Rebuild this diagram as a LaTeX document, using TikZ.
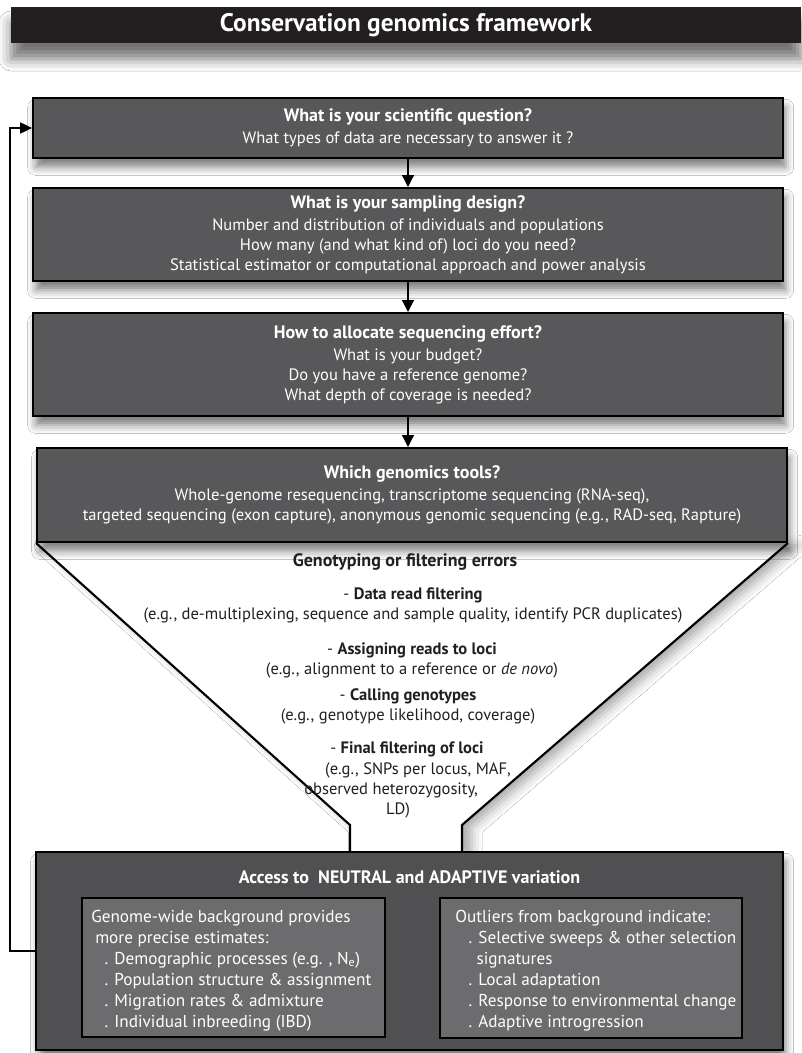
\documentclass[tikz,border=0pt]{standalone}
\usepackage{fontspec}
\setmainfont{PT Sans}
\usepackage{tikz}
\usetikzlibrary{arrows.meta, shadows.blur, backgrounds}

\definecolor{titleblack}{RGB}{35,31,32}
\definecolor{boxgrey}{RGB}{88,88,90}
\definecolor{accessgrey}{RGB}{80,80,82}
\definecolor{innergrey}{RGB}{108,108,110}
\definecolor{inkblack}{RGB}{35,31,32}

\newcommand{\boxbody}{\fontsize{12.4}{15}\selectfont}
\newcommand{\boxhead}{\fontsize{13.5}{15}\selectfont\bfseries}

\tikzset{
	titlebar/.style={fill=titleblack, text=white, inner sep=0pt, minimum width=592.5pt, minimum height=27pt, font=\fontsize{19}{20}\selectfont\bfseries, blur shadow={shadow xshift=0pt, shadow yshift=-12pt, shadow blur radius=9pt, shadow opacity=55}},
	stepbox/.style={draw=black, line width=1.5pt, fill=boxgrey, text=white, align=center, inner sep=0pt, font=\boxbody, blur shadow={shadow xshift=2pt, shadow yshift=-7pt, shadow blur radius=6pt, shadow opacity=50}},
	innerbox/.style={draw=black, line width=1.5pt, fill=innergrey, inner sep=0pt},
	innertext/.style={anchor=north west, align=left, text=white, inner sep=0pt, font=\fontsize{12.9}{15.75}\selectfont},
	funneltext/.style={align=center, text=inkblack, inner sep=0pt, font=\boxbody},
	flow/.style={line width=0.9pt, -{Triangle[length=9pt, width=9pt]}},
	feedback/.style={line width=0.8pt, -{Triangle[length=9pt, width=8.5pt]}},
	funnelline/.style={line width=1.6pt, line join=miter}
}

\begin{document}
\begin{tikzpicture}[x=0.75pt, y=-0.75pt]
	\useasboundingbox (0,0) rectangle (801,1053);
	% Title and the four question boxes:
	\node[titlebar] (title) at (406,25) {Conservation genomics framework};
	\node[stepbox, minimum width=562.5pt, minimum height=45pt] (question) at (408,128) {{\boxhead What is your scientific question?}\\[1.5pt]What types of data are necessary to answer it ?};
	\node[stepbox, minimum width=562.5pt, minimum height=69.75pt] (design) at (408,234.5) {{\boxhead What is your sampling design?}\\[1.5pt]Number and distribution of individuals and populations\\How many (and what kind of) loci do you need?\\Statistical estimator or computational approach and power analysis};
	\node[stepbox, minimum width=562.5pt, minimum height=77.25pt] (effort) at (408,364.5) {{\boxhead How to allocate sequencing effort?}\\[1.5pt]What is your budget?\\Do you have a reference genome?\\What depth of coverage is needed?};
	\node[stepbox, minimum width=562.5pt, minimum height=70.5pt] (tools) at (412,495) {{\boxhead Which genomics tools?}\\[1.5pt]Whole-genome resequencing, transcriptome sequencing (RNA-seq),\\targeted sequencing (exon capture), anonymous genomic sequencing (e.g., RAD-seq, Rapture)};
	\draw[flow] (question.south) -- (question.south |- design.north);
	\draw[flow] (design.south) -- (design.south |- effort.north);
	\draw[flow] (effort.south) -- (effort.south |- tools.north);
	% Bottom box with its two panels:
	\node[stepbox, fill=accessgrey, minimum width=560.25pt, minimum height=148.5pt] (access) at (409.5,951) {};
	\node[text=white, inner sep=0pt, font=\boxhead] (accesstitle) at (409.5,877) {Access to\ \ NEUTRAL and ADAPTIVE variation};
	\node[innerbox, minimum width=227.25pt, minimum height=104.25pt] (background) at (233.5,967.5) {};
	\node[innerbox, minimum width=226.5pt, minimum height=105pt] (outliers) at (591,968) {};
	\node[innertext] (bgtext) at (91,910) {Genome-wide background provides\\\hspace*{3pt}more precise estimates:\\\hspace*{10pt}. Demographic processes (e.g. , N\textsubscript{e})\\\hspace*{10pt}. Population structure \& assignment\\\hspace*{10pt}. Migration rates \& admixture\\\hspace*{10pt}. Individual inbreeding (IBD)};
	\node[innertext] (outtext) at (455,910) {Outliers from background indicate:\\\hspace*{10pt}. Selective sweeps \& other selection\\\hspace*{16pt}signatures\\\hspace*{10pt}. Local adaptation\\\hspace*{10pt}. Response to environmental change\\\hspace*{10pt}. Adaptive introgression};
	% Funnel of filtering steps:
	\coordinate (neckL) at (350,825);
	\coordinate (neckR) at (462,825);
	\draw[funnelline] (tools.south west) -- (neckL) -- (neckL |- access.north);
	\draw[funnelline] (tools.south east) -- (neckR) -- (neckR |- access.north);
	\node[funneltext, font=\boxhead] (errors) at (405,562) {Genotyping or filtering errors};
	\node[funneltext] (readfilt) at (413,605) {- \textbf{Data read filtering}\\(e.g., de-multiplexing, sequence and sample quality, identify PCR duplicates)};
	\node[funneltext] (assign) at (412,660) {- \textbf{Assigning reads to loci}\\(e.g., alignment to a reference or \textit{de novo})};
	\node[funneltext] (calling) at (408,706.5) {- \textbf{Calling genotypes}\\(e.g., genotype likelihood, coverage)};
	\node[funneltext] (finalfilt) at (407,749) {- \textbf{Final filtering of loci}};
	\node[funneltext] (snps) at (418,770) {(e.g., SNPs per locus, MAF,};
	\node[funneltext] (hetero) at (391,790) {observed heterozygosity,};
	\node[funneltext] (ld) at (398,810) {LD)};
	% Loop back to the question:
	\draw[feedback] (access.west) -- ++(-25,0) |- (question.west);
	\begin{scope}[on background layer]
		\fill[white] (0,0) rectangle (801,1053);
		\fill[white, blur shadow={shadow xshift=7pt, shadow yshift=-2pt, shadow blur radius=8pt, shadow opacity=35}] (tools.south west) -- (neckL) -- (neckL |- access.north) -- (neckR |- access.north) -- (neckR) -- (tools.south east) -- cycle;
	\end{scope}
\end{tikzpicture}
\end{document}
